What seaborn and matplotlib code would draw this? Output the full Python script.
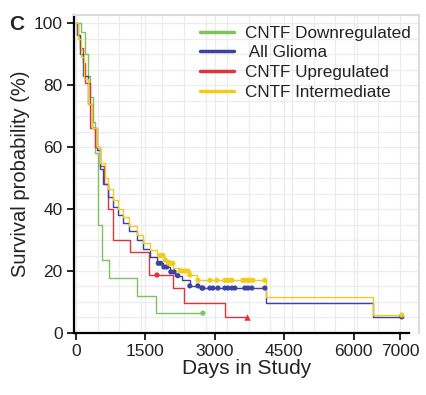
import numpy as np
import pandas as pd
import matplotlib
matplotlib.use("Agg")
import matplotlib.pyplot as plt
from matplotlib.lines import Line2D
import seaborn as sns

# ---- data ----
groups = ["CNTF Downregulated", "All Glioma", "CNTF Upregulated", "CNTF Intermediate"]

down_t = [0, 110, 190, 250, 310, 370, 420, 468, 560, 713, 1317, 1728, 2743]
down_s = [100, 97, 90, 83, 76, 68, 58, 35, 23.5, 17.7, 12, 6.4, 6.4]

all_t = [0, 30, 86, 150, 250, 350, 450, 520, 590, 700, 800, 900, 1015, 1150, 1310,
         1450, 1600, 1750, 1880, 2030, 2150, 2290, 2460, 2700, 4100, 6410, 7040]
all_s = [100, 96, 90, 83, 74, 66, 59, 53, 48, 44, 40.6, 38, 35.5, 33, 30,
         27, 24.5, 22.5, 21.3, 19.7, 18.5, 17, 15.2, 14.5, 9.7, 5.2, 5.2]

up_t = [0, 40, 90, 150, 194, 302, 420, 518, 600, 700, 800, 1166, 1580, 2100, 2330, 3220, 3700]
up_s = [100, 96, 92, 87, 80.6, 66, 60, 54, 48, 40, 30, 26, 18.7, 14.5, 9.7, 5.2, 5.2]

mid_t = [0, 40, 100, 170, 250, 350, 450, 530, 620, 700, 800, 900, 1015, 1150, 1310,
         1450, 1600, 1750, 1900, 2000, 2100, 2250, 2460, 2610, 4100, 6410, 7040]
mid_s = [100, 95, 89, 82, 74, 66, 60, 55, 50, 46.5, 43, 40, 37.4, 34.5, 31.6,
         29, 26.8, 25, 23.5, 22.5, 21, 20, 18.7, 17, 11.6, 5.8, 5.8]

# censoring marks (days)
down_c = [2743]
all_c = [1780, 1830, 1900, 1960, 2050, 2120, 2200, 2460, 2635, 2720, 2743, 2894, 2960,
         3067, 3218, 3283, 3369, 3434, 3650, 3715, 3800, 4082, 7040]
up_c = [1750]
up_end = [3700]
mid_c = [1815, 1850, 1880, 1930, 2000, 2060, 2095, 2250, 2300, 2360, 2420, 2460, 2635,
         2894, 3045, 3218, 3261, 3326, 3369, 3607, 3650, 3715, 3758, 3823, 4082, 7040]

colors = {"CNTF Downregulated": "#7cc35a", "All Glioma": "#3a43a0",
          "CNTF Upregulated": "#e0333c", "CNTF Intermediate": "#f2cc1a"}


def step_val(t, s, x):
    idx = np.searchsorted(np.asarray(t), x, side="right") - 1
    return np.asarray(s)[idx]


curves = pd.concat([
    pd.DataFrame({"day": down_t, "surv": down_s, "group": groups[0]}),
    pd.DataFrame({"day": up_t, "surv": up_s, "group": groups[2]}),
    pd.DataFrame({"day": all_t, "surv": all_s, "group": groups[1]}),
    pd.DataFrame({"day": mid_t, "surv": mid_s, "group": groups[3]}),
], ignore_index=True)

cens = pd.concat([
    pd.DataFrame({"day": down_c, "surv": step_val(down_t, down_s, down_c), "group": groups[0]}),
    pd.DataFrame({"day": up_c, "surv": step_val(up_t, up_s, up_c), "group": groups[2]}),
    pd.DataFrame({"day": all_c, "surv": step_val(all_t, all_s, all_c), "group": groups[1]}),
    pd.DataFrame({"day": mid_c, "surv": step_val(mid_t, mid_s, mid_c), "group": groups[3]}),
], ignore_index=True)
ends = pd.DataFrame({"day": up_end, "surv": step_val(up_t, up_s, up_end), "group": groups[2]})

# ---- figure ----
sns.set_style("white")
plt.rcParams["font.family"] = ["Liberation Sans", "DejaVu Sans"]

fig = plt.figure(figsize=(4.27, 3.95), dpi=100)
ax = fig.add_axes([0.173, 0.157, 0.808, 0.805])

sns.lineplot(data=curves, x="day", y="surv", hue="group", palette=colors,
             units="group", estimator=None, sort=False, drawstyle="steps-post",
             linewidth=1.0, legend=False, ax=ax)
sns.scatterplot(data=cens, x="day", y="surv", hue="group", palette=colors,
                s=14, linewidth=0, legend=False, ax=ax, zorder=5)
sns.scatterplot(data=ends, x="day", y="surv", hue="group", palette=colors,
                marker="^", s=22, linewidth=0, legend=False, ax=ax, zorder=5)

ax.set_xlim(-45, 7410)
ax.set_ylim(0, 102.6)
ax.set_xticks([0, 1500, 3000, 4500, 6000, 7000])
ax.set_yticks([0, 20, 40, 60, 80, 100])
ax.set_xticks(np.arange(0, 7001, 7000 / 15), minor=True)
ax.set_yticks(np.arange(0, 101, 5), minor=True)
ax.grid(which="both", color="#ececec", linewidth=0.9)
ax.set_axisbelow(True)
ax.tick_params(axis="both", which="major", direction="out", length=5, width=1.2,
               color="black", labelsize=12.5, pad=3, bottom=True, left=True,
               labelcolor="#222222")
ax.tick_params(which="minor", length=0)

for side in ["left", "bottom"]:
    ax.spines[side].set_color("black")
    ax.spines[side].set_linewidth(1.6)
for side in ["top", "right"]:
    ax.spines[side].set_color("#dcdcdc")
    ax.spines[side].set_linewidth(1.5)
ax.spines["bottom"].set_bounds(-45, 7200)

ax.set_xlabel("Days in Study", fontsize=15, labelpad=0, color="#222222")
ax.set_ylabel("Survival probability (%)", fontsize=14.5, labelpad=3, color="#222222")

handles = [Line2D([0], [0], color=colors[g], lw=2.5) for g in groups]
labels = ["CNTF Downregulated", " All Glioma", "CNTF Upregulated", "CNTF Intermediate"]
ax.legend(handles, labels, loc="upper right", bbox_to_anchor=(1.02, 1.015), frameon=False,
          fontsize=12.3, handlelength=2.0, handletextpad=0.6, labelspacing=0.28,
          borderaxespad=0.5, labelcolor="#222222")

fig.text(0.022, 0.925, "C", fontsize=15, fontweight="bold")

fig.savefig("out.png", dpi=100)
